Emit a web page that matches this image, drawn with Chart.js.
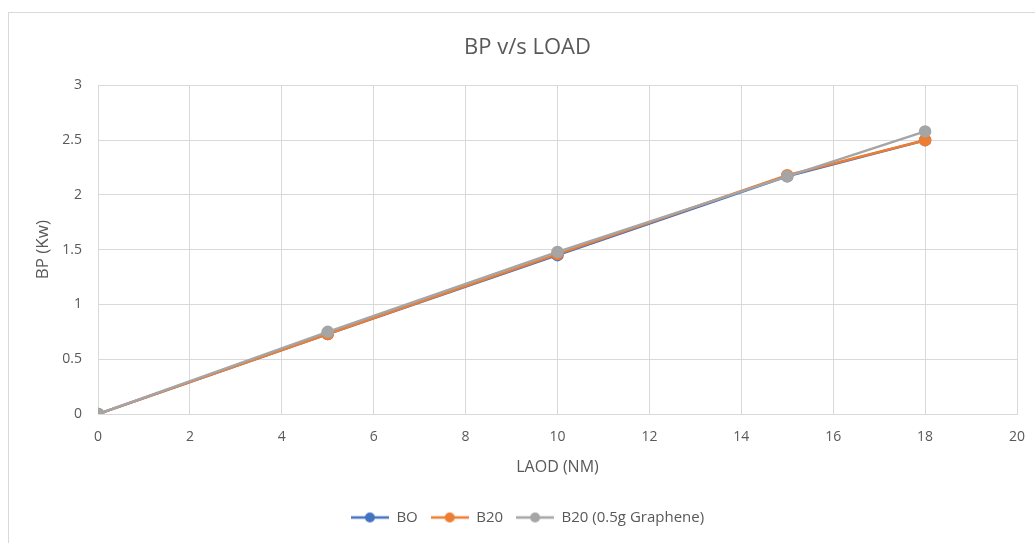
<!DOCTYPE html>
<html>
<head>
    <meta charset="utf-8">
    <title>BP v/s LOAD</title>
    <script src="https://cdn.jsdelivr.net/npm/chart.js"></script>
    <style>
        body { margin: 0; background: #fff; }
        .wrap { position: relative; width: 1035px; height: 543px; }
        .frame { position: absolute; left: 8px; top: 12px; width: 1040px; height: 540px; border: 1px solid #d9d9d9; }
        canvas { position: absolute; left: 0; top: 0; }
    </style>
</head>
<body>
    <div class="wrap">
        <div class="frame"></div>
        <canvas id="bpChart" width="1035" height="543"></canvas>
    </div>
    <script>
        // values
        var loads = [0, 5, 10, 15, 18];
        var bo = [0, 0.73, 1.45, 2.17, 2.5];
        var b20 = [0, 0.73, 1.46, 2.18, 2.5];
        var b20g = [0, 0.75, 1.48, 2.17, 2.58];
        var seriesNames = ['BO', 'B20', 'B20 (0.5g Graphene)'];
        var seriesColors = ['#4472c4', '#ed7d31', '#a5a5a5'];
        var yTicks = [0, 0.5, 1, 1.5, 2, 2.5, 3];
        var xTicks = [0, 2, 4, 6, 8, 10, 12, 14, 16, 18, 20];

        var font = "'Open Sans', 'Liberation Sans', sans-serif";
        var textColor = '#595959';

        function points(vals) {
            return loads.map(function(x, i) { return { x: x, y: vals[i] }; });
        }

        // legend marker: short line with a dot in the middle
        function marker(color) {
            var c = document.createElement('canvas');
            c.width = 38; c.height = 12;
            var g = c.getContext('2d');
            g.strokeStyle = color;
            g.lineWidth = 2.5;
            g.beginPath(); g.moveTo(0, 6); g.lineTo(38, 6); g.stroke();
            g.fillStyle = color;
            g.beginPath(); g.arc(19, 6, 5, 0, Math.PI * 2); g.fill();
            return c;
        }

        var allSeries = [bo, b20, b20g];
        var datasets = allSeries.map(function(vals, i) {
            return {
                label: seriesNames[i],
                data: points(vals),
                borderColor: seriesColors[i],
                backgroundColor: seriesColors[i],
                borderWidth: 2.5,
                pointRadius: 5,
                pointHoverRadius: 5,
                pointStyle: 'circle',
                legendMarker: marker(seriesColors[i]),
                order: 2 - i
            };
        });

        var ctx = document.getElementById('bpChart').getContext('2d');
        var chart = new Chart(ctx, {
            type: 'line',
            data: { datasets: datasets },
            options: {
                responsive: false,
                animation: false,
                layout: { padding: { left: 38, right: 18, top: 0, bottom: 8 } },
                plugins: {
                    title: {
                        display: true,
                        text: 'BP v/s LOAD',
                        color: textColor,
                        font: { family: font, size: 22, weight: 'normal' },
                        padding: { top: 35, bottom: 24 }
                    },
                    legend: {
                        position: 'bottom',
                        labels: {
                            color: textColor,
                            font: { family: font, size: 15 },
                            usePointStyle: true,
                            pointStyleWidth: 38,
                            boxHeight: 12,
                            padding: 13,
                            generateLabels: function(chart) {
                                return chart.data.datasets.map(function(d, i) {
                                    return {
                                        text: d.label,
                                        fillStyle: d.borderColor,
                                        strokeStyle: d.borderColor,
                                        pointStyle: d.legendMarker,
                                        fontColor: textColor,
                                        datasetIndex: i,
                                        lineWidth: 0
                                    };
                                });
                            }
                        }
                    },
                    tooltip: { enabled: false }
                },
                scales: {
                    x: {
                        type: 'linear',
                        min: 0,
                        max: 20,
                        afterBuildTicks: function(axis) {
                            axis.ticks = xTicks.map(function(v) { return { value: v }; });
                        },
                        afterFit: function(axis) {
                            axis.height = 83;
                            axis.paddingRight = 8;
                            axis.paddingLeft = 0;
                        },
                        grid: { color: '#d9d9d9', lineWidth: 1, drawTicks: false },
                        border: { color: '#d9d9d9' },
                        ticks: {
                            color: textColor, font: { family: font, size: 14 }, padding: 15,
                            callback: function(v) { return String(v); }
                        },
                        title: {
                            display: true,
                            text: 'LAOD (NM)',
                            color: textColor,
                            font: { family: font, size: 16 },
                            padding: { top: 0, bottom: 20 }
                        }
                    },
                    y: {
                        min: 0,
                        max: 3,
                        afterBuildTicks: function(axis) {
                            axis.ticks = yTicks.map(function(v) { return { value: v }; });
                        },
                        afterFit: function(axis) { axis.width = 60; },
                        grid: { color: '#d9d9d9', lineWidth: 1, drawTicks: false },
                        border: { color: '#d9d9d9' },
                        ticks: {
                            color: textColor, font: { family: font, size: 14 }, padding: 16,
                            callback: function(v) { return String(v); }
                        },
                        title: {
                            display: true,
                            text: 'BP (Kw)',
                            color: textColor,
                            font: { family: font, size: 17, lineHeight: 0.6 },
                            padding: { top: 0, bottom: 0 }
                        }
                    }
                }
            }
        });
    </script>
</body>
</html>
